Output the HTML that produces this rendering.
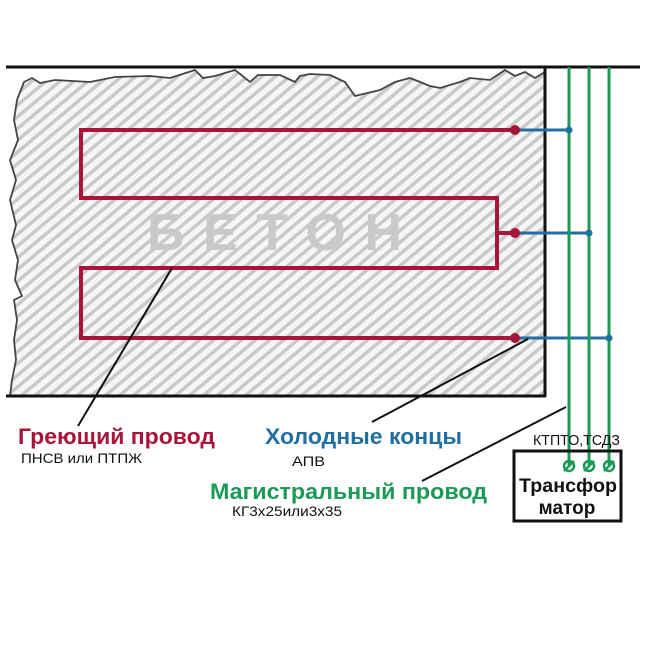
<!DOCTYPE html>
<html><head><meta charset="utf-8"><style>
html,body{margin:0;padding:0;background:#fff;}
svg{display:block;}
text{font-family:"Liberation Sans","DejaVu Sans",sans-serif;}
</style></head><body>
<svg width="647" height="650" viewBox="0 0 647 650" xmlns="http://www.w3.org/2000/svg">
<defs>
<pattern id="h" patternUnits="userSpaceOnUse" width="9" height="9" patternTransform="rotate(-40)">
<rect width="9" height="9" fill="#f6f6f6"/>
<rect width="9" height="3.5" fill="#c9c9c9"/>
</pattern>
</defs>
<path d="M10,396 L12,380 L16,360 L14,340 L17,320 L14,300 L22,296 L15,280 L18,260 L12,240 L16,225 L10,200 L16,180 L10,160 L18,140 L14,120 L17,100 L24,82 L32,78 L40,83 L55,80 L90,82 L115,77 L150,76 L170,78 L195,70 L203,78 L215,76 L235,70 L250,82 L258,75 L280,75 L295,82 L300,76 L310,74 L330,75 L345,82 L355,96 L380,90 L395,82 L410,78 L430,86 L440,88 L460,82 L470,78 L490,80 L505,70 L515,76 L525,72 L535,78 L545,72 L545,396 Z" fill="url(#h)" stroke="#444" stroke-width="1.8"/>
<line x1="6" y1="67" x2="640" y2="67" stroke="#111" stroke-width="3"/>
<line x1="545" y1="67" x2="545" y2="397" stroke="#111" stroke-width="3"/>
<line x1="6" y1="396" x2="546" y2="396" stroke="#111" stroke-width="3"/>
<text x="147" y="250" font-size="52" font-weight="bold" fill="#c9c9c9" textLength="255" lengthAdjust="spacing">БЕТОН</text>
<polyline points="515,130 81,130 81,198 497,198 497,268 81,268 81,338 515,338" fill="none" stroke="#a8143a" stroke-width="4"/>
<line x1="497" y1="233" x2="515" y2="233" stroke="#a8143a" stroke-width="4"/>
<g stroke="#1f6fa3" stroke-width="3">
<line x1="515" y1="130" x2="569" y2="130"/>
<line x1="515" y1="233" x2="589" y2="233"/>
<line x1="515" y1="338" x2="609" y2="338"/>
</g>
<g stroke="#1a9a55" stroke-width="3">
<line x1="569" y1="67" x2="569" y2="465"/>
<line x1="589" y1="67" x2="589" y2="465"/>
<line x1="609" y1="67" x2="609" y2="465"/>
</g>
<g fill="#a8143a"><circle cx="515" cy="130" r="5"/><circle cx="515" cy="233" r="5"/><circle cx="515" cy="338" r="5"/></g>
<g fill="#1f6fa3"><circle cx="569" cy="130" r="3.5"/><circle cx="589" cy="233" r="3.5"/><circle cx="609" cy="338" r="3.5"/></g>
<g stroke="#111" stroke-width="2">
<line x1="172" y1="268" x2="78" y2="426"/>
<line x1="528" y1="339" x2="372" y2="422"/>
<line x1="566" y1="407" x2="422" y2="481"/>
</g>
<rect x="514" y="451" width="107" height="70" fill="none" stroke="#111" stroke-width="3"/>
<g fill="none" stroke="#1a9a55" stroke-width="2.5">
<circle cx="569" cy="466" r="5"/><circle cx="589" cy="466" r="5"/><circle cx="609" cy="466" r="5"/>
<line x1="564" y1="471" x2="574" y2="461"/><line x1="584" y1="471" x2="594" y2="461"/><line x1="604" y1="471" x2="614" y2="461"/>
</g>
<text x="519" y="492" font-size="19" font-weight="bold" fill="#111" textLength="98" lengthAdjust="spacingAndGlyphs">Трансфор</text>
<text x="567" y="514" font-size="19" font-weight="bold" fill="#111" text-anchor="middle">матор</text>
<text x="18" y="444" font-size="22" font-weight="bold" fill="#a8143a" textLength="197" lengthAdjust="spacingAndGlyphs">Греющий провод</text>
<text x="21" y="463" font-size="14" fill="#111" textLength="121" lengthAdjust="spacingAndGlyphs">ПНСВ или ПТПЖ</text>
<text x="265" y="444" font-size="22" font-weight="bold" fill="#1f6fa3" textLength="197" lengthAdjust="spacingAndGlyphs">Холодные концы</text>
<text x="292" y="466" font-size="14" fill="#111" textLength="33" lengthAdjust="spacingAndGlyphs">АПВ</text>
<text x="533" y="445" font-size="15" fill="#111" textLength="87" lengthAdjust="spacingAndGlyphs">КТПТО,ТСДЗ</text>
<text x="210" y="499" font-size="22" font-weight="bold" fill="#1a9a55" textLength="277" lengthAdjust="spacingAndGlyphs">Магистральный провод</text>
<text x="232" y="516" font-size="14" fill="#111" textLength="110" lengthAdjust="spacingAndGlyphs">КГ3х25или3х35</text>
</svg>
</body></html>
